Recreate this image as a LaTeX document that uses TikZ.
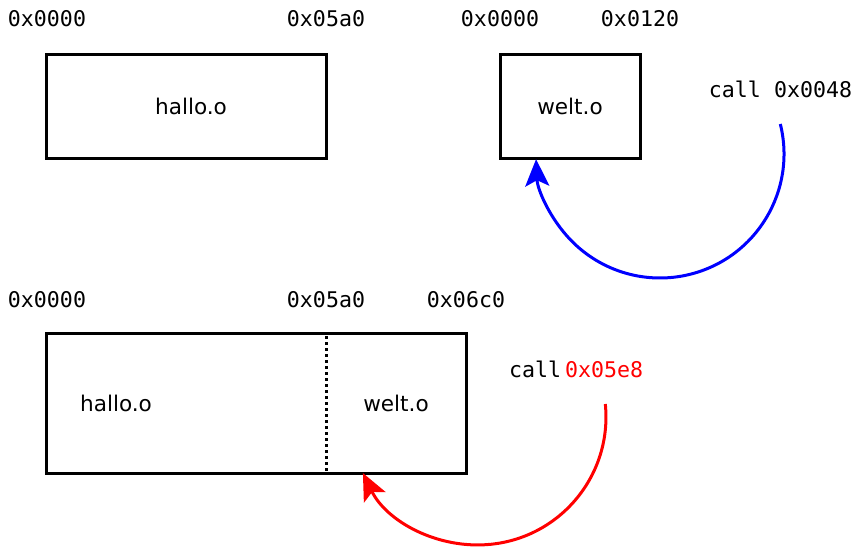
\documentclass[tikz,border=0pt]{standalone}
\usepackage{fontspec}
\setmainfont{DejaVu Sans}
\setmonofont{DejaVu Sans Mono}
\usetikzlibrary{arrows.meta}
\definecolor{cblue}{RGB}{0,0,255}
\definecolor{cred}{RGB}{255,0,0}
\begin{document}
\begin{tikzpicture}[x=1pt,y=1pt,
  every node/.style={inner sep=0pt,outer sep=0pt,font=\fontsize{21.6}{26}\selectfont},
  box/.style={draw,line width=3pt,rectangle},
  addr/.style={anchor=base,font=\fontsize{21.6}{26}\selectfont\ttfamily},
  callarrow/.style={line width=3pt,-{Stealth[length=27pt,width=24pt,inset=6pt]}}
]
\useasboundingbox (0,0) rectangle (856,-546);
% top row
\node[box,minimum width=280pt,minimum height=104pt] (hallo) at (186,-106) {};
\node (th) at (191,-106) {hallo.o};
\node[box,minimum width=140pt,minimum height=104pt] (welt) at (570,-106) {welt.o};
\node[addr] (a1) at (47,-27) {0x0000};
\node[addr] (a2) at (326,-27) {0x05a0};
\node[addr] (a3) at (500,-27) {0x0000};
\node[addr] (a4) at (640,-27) {0x0120};
\node[addr] (call1) at (780.5,-97) {call 0x0048};
\coordinate (s1) at (780.3,-124);
\draw[callarrow,cblue] (s1) arc[start angle=14,end angle=-177.6,radius=124pt];
% bottom row
\node[box,minimum width=420pt,minimum height=140pt] (linked) at (256,-403) {};
\coordinate (d1) at (326,-336);
\coordinate (d2) at (326,-473);
\draw[line width=3pt,dash pattern=on 3pt off 3pt] (d1) -- (d2);
\node (lh) at (116,-403) {hallo.o};
\node (lw) at (396,-403) {welt.o};
\node[addr] (b1) at (47,-307) {0x0000};
\node[addr] (b2) at (326,-307) {0x05a0};
\node[addr] (b3) at (466,-307) {0x06c0};
\node[anchor=base west,font=\fontsize{21.6}{26}\selectfont\ttfamily] (call2) at (509,-377) {call\hspace{4pt}\textcolor{cred}{0x05e8}};
\coordinate (s2) at (605.3,-404);
\draw[callarrow,cred] (s2) arc[start angle=5.8,end angle=-154,radius=128pt];
\end{tikzpicture}
\end{document}
